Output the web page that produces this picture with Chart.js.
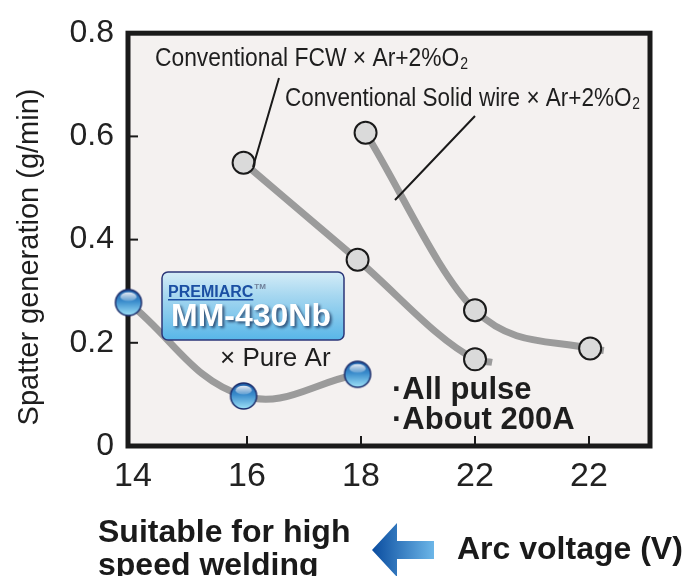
<!DOCTYPE html>
<html>
<head>
<meta charset="utf-8">
<script src="https://cdn.jsdelivr.net/npm/chart.js@4.4.0/dist/chart.umd.min.js"></script>
<style>
  html, body { margin: 0; padding: 0; background: #fff; }
  #wrap { width: 687px; height: 576px; position: relative; }
</style>
</head>
<body>
<div id="wrap"><canvas id="spatterChart" width="687" height="576"></canvas></div>
<script>
// 轴刻度
const xTickVals = [0, 1, 2, 3, 4];
const xLabels = ['14', '16', '18', '22', '22'];
const yTickVals = [0, 0.2, 0.4, 0.6, 0.8];
const yLabels = ['0', '0.2', '0.4', '0.6', '0.8'];

// 各系列 (x = 刻度位置)
const fcwX = [0.97, 1.97, 3.0, 3.15];
const fcwY = [0.549, 0.361, 0.168, 0.162];
const solidX = [2.04, 3.0, 4.01, 4.13];
const solidY = [0.607, 0.263, 0.189, 0.185];
const mmX = [-0.04, 0.97, 1.97];
const mmY = [0.278, 0.097, 0.139];

const sans = "'Liberation Sans', Arial, sans-serif";

function toPoints(xs, ys) {
    return xs.map((x, i) => ({ x: x, y: ys[i] }));
}

function makeSphere(r) {
    const s = r * 2 + 4;
    const c = document.createElement('canvas');
    c.width = c.height = s;
    const g = c.getContext('2d');
    const cx = s / 2, cy = s / 2;
    const lg = g.createLinearGradient(0, cy - r, 0, cy + r);
    lg.addColorStop(0, '#1d5aa4');
    lg.addColorStop(0.45, '#3a8ccc');
    lg.addColorStop(1, '#9fe2f8');
    g.beginPath();
    g.arc(cx, cy, r, 0, Math.PI * 2);
    g.fillStyle = lg;
    g.fill();
    g.lineWidth = 1.5;
    g.strokeStyle = '#1b2d6b';
    g.stroke();
    const hg = g.createLinearGradient(0, cy - r + 2, 0, cy - 1);
    hg.addColorStop(0, 'rgba(255,255,255,0.95)');
    hg.addColorStop(1, 'rgba(255,255,255,0.15)');
    g.beginPath();
    g.ellipse(cx, cy - r * 0.45, r * 0.62, r * 0.34, 0, 0, Math.PI * 2);
    g.fillStyle = hg;
    g.fill();
    return c;
}

// 压缩字体的文字 + 下标 2, 按目标宽度横向缩放
function drawSub(ctx, text, x, y, size, targetW) {
    ctx.save();
    ctx.font = size + 'px ' + sans;
    const w = ctx.measureText(text).width;
    ctx.font = Math.round(size * 0.6) + 'px ' + sans;
    const w2 = ctx.measureText('2').width;
    const k = targetW / (w + 1 + w2);
    ctx.translate(x, y);
    ctx.scale(k, 1);
    ctx.textAlign = 'left';
    ctx.textBaseline = 'alphabetic';
    ctx.font = size + 'px ' + sans;
    ctx.fillText(text, 0, 0);
    ctx.font = Math.round(size * 0.6) + 'px ' + sans;
    ctx.fillText('2', w + 1, 3);
    ctx.restore();
}

const decor = {
    id: 'decor',
    beforeDatasetsDraw(chart) {
        const { ctx, chartArea: a, scales } = chart;
        ctx.save();
        ctx.fillStyle = '#f4f1f0';
        ctx.fillRect(a.left, a.top, a.right - a.left, a.bottom - a.top);
        ctx.strokeStyle = '#1a1a1a';
        ctx.lineWidth = 2;
        xTickVals.slice(1).forEach(v => {
            const px = scales.x.getPixelForValue(v);
            ctx.beginPath();
            ctx.moveTo(px, a.bottom);
            ctx.lineTo(px, a.bottom - 10);
            ctx.stroke();
        });
        yTickVals.slice(1, -1).forEach(v => {
            const py = scales.y.getPixelForValue(v);
            ctx.beginPath();
            ctx.moveTo(a.left, py);
            ctx.lineTo(a.left + 10, py);
            ctx.stroke();
        });
        ctx.lineWidth = 5;
        ctx.strokeRect(a.left, a.top, a.right - a.left, a.bottom - a.top);
        ctx.restore();
    },
    afterDatasetsDraw(chart) {
        const { ctx } = chart;
        ctx.save();
        // 引出线
        ctx.strokeStyle = '#1a1a1a';
        ctx.lineWidth = 2;
        ctx.beginPath();
        ctx.moveTo(279, 78); ctx.lineTo(253, 167);
        ctx.moveTo(475, 116); ctx.lineTo(395, 200);
        ctx.stroke();

        ctx.fillStyle = '#1e1e1e';
        drawSub(ctx, 'Conventional FCW \u00d7 Ar+2%O', 155, 66, 26, 313);
        drawSub(ctx, 'Conventional Solid wire \u00d7 Ar+2%O', 285, 106, 26, 355);

        // MM-430Nb 标签框
        const bx = 162, by = 272, bw = 182, bh = 68;
        const bg = ctx.createLinearGradient(0, by, 0, by + bh);
        bg.addColorStop(0, '#d4ecf7');
        bg.addColorStop(0.35, '#a6d7f0');
        bg.addColorStop(1, '#58b6e8');
        ctx.beginPath();
        ctx.roundRect(bx, by, bw, bh, 6);
        ctx.fillStyle = bg;
        ctx.fill();
        ctx.lineWidth = 1.5;
        ctx.strokeStyle = '#2b3678';
        ctx.stroke();

        ctx.fillStyle = '#1b4fa3';
        ctx.font = 'bold 16px ' + sans;
        ctx.textBaseline = 'alphabetic';
        ctx.fillText('PREMIARC', 168, 297);
        const pw = ctx.measureText('PREMIARC').width;
        ctx.fillRect(168, 299, pw, 1.5);
        ctx.fillStyle = '#6f7f99';
        ctx.font = 'bold 8px ' + sans;
        ctx.fillText('TM', 168 + pw + 1, 289);

        ctx.shadowColor = 'rgba(20,40,80,0.75)';
        ctx.shadowOffsetX = 2;
        ctx.shadowOffsetY = 2;
        ctx.shadowBlur = 3;
        ctx.fillStyle = '#ffffff';
        ctx.font = 'bold 32px ' + sans;
        ctx.fillText('MM-430Nb', 171, 326);
        ctx.shadowColor = 'transparent';

        ctx.fillStyle = '#1e1e1e';
        ctx.font = '26px ' + sans;
        ctx.fillText('\u00d7 Pure Ar', 220, 366);

        ctx.font = 'bold 31px ' + sans;
        ctx.fillText('\u00b7All pulse', 392, 399);
        ctx.fillText('\u00b7About 200A', 392, 429);
        ctx.restore();
    },
    afterDraw(chart) {
        const { ctx } = chart;
        ctx.save();
        ctx.fillStyle = '#1e1e1e';
        ctx.translate(30, 257);
        ctx.rotate(-Math.PI / 2);
        ctx.font = '29px ' + sans;
        ctx.textAlign = 'center';
        ctx.textBaseline = 'middle';
        ctx.fillText('Spatter generation (g/min)', 0, 0);
        ctx.restore();

        ctx.save();
        ctx.fillStyle = '#1a1a1a';
        ctx.font = 'bold 32px ' + sans;
        ctx.textAlign = 'left';
        ctx.textBaseline = 'alphabetic';
        ctx.fillText('Suitable for high', 98, 542);
        ctx.fillText('speed welding', 98, 575);
        ctx.fillText('Arc voltage (V)', 457, 559);

        // 箭头
        const ag = ctx.createLinearGradient(372, 0, 434, 0);
        ag.addColorStop(0, '#0a4c9f');
        ag.addColorStop(1, '#6cb6e8');
        ctx.beginPath();
        ctx.moveTo(372, 550);
        ctx.lineTo(397, 523);
        ctx.lineTo(397, 541);
        ctx.lineTo(434, 541);
        ctx.lineTo(434, 559);
        ctx.lineTo(397, 559);
        ctx.lineTo(397, 577);
        ctx.closePath();
        ctx.fillStyle = ag;
        ctx.fill();
        ctx.restore();
    }
};

const sphere = makeSphere(13);
const ctx = document.getElementById('spatterChart').getContext('2d');
new Chart(ctx, {
    type: 'line',
    data: {
        datasets: [{
            label: 'MM-430Nb x Pure Ar',
            data: toPoints(mmX, mmY),
            borderColor: '#9b9b9b',
            borderWidth: 7,
            tension: 0.4,
            pointStyle: sphere,
            pointRadius: 13,
            clip: false
        }, {
            label: 'Conventional FCW x Ar+2%O2',
            data: toPoints(fcwX, fcwY),
            borderColor: '#9b9b9b',
            borderWidth: 7,
            cubicInterpolationMode: 'monotone',
            pointRadius: [11, 11, 11, 0],
            pointBackgroundColor: '#dadada',
            pointBorderColor: '#1a1a1a',
            pointBorderWidth: 2,
            clip: false
        }, {
            label: 'Conventional Solid wire x Ar+2%O2',
            data: toPoints(solidX, solidY),
            borderColor: '#9b9b9b',
            borderWidth: 7,
            cubicInterpolationMode: 'monotone',
            pointRadius: [11, 11, 11, 0],
            pointBackgroundColor: '#dadada',
            pointBorderColor: '#1a1a1a',
            pointBorderWidth: 2,
            clip: false
        }]
    },
    options: {
        responsive: false,
        animation: false,
        events: [],
        layout: { padding: { top: 32, right: 37, left: 0, bottom: 0 } },
        plugins: {
            legend: { display: false },
            tooltip: { enabled: false }
        },
        scales: {
            x: {
                type: 'linear',
                min: -0.044,
                max: 4.535,
                grid: { display: false, drawTicks: false },
                border: { display: false },
                afterFit: s => { s.height = 130; },
                afterBuildTicks: s => { s.ticks = xTickVals.map(v => ({ value: v })); },
                ticks: {
                    padding: 10,
                    color: '#222',
                    font: { family: 'Liberation Sans', size: 34 },
                    callback: (v, i) => xLabels[i]
                }
            },
            y: {
                type: 'linear',
                min: 0,
                max: 0.8,
                grid: { display: false, drawTicks: false },
                border: { display: false },
                afterFit: s => { s.width = 128; },
                afterBuildTicks: s => { s.ticks = yTickVals.map(v => ({ value: v })); },
                ticks: {
                    padding: 14,
                    color: '#222',
                    font: { family: 'Liberation Sans', size: 32 },
                    callback: (v, i) => yLabels[i]
                }
            }
        }
    },
    plugins: [decor]
});
</script>
</body>
</html>
